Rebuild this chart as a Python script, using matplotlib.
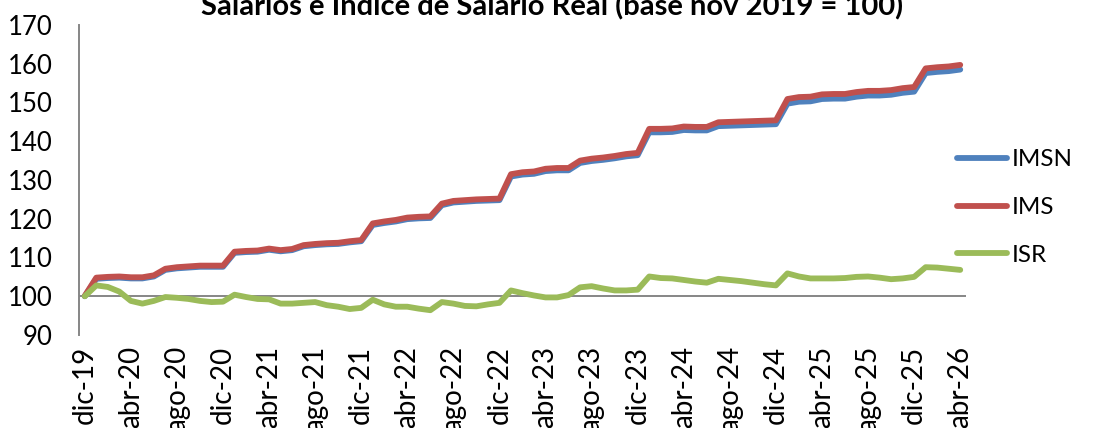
import numpy as np
import matplotlib
matplotlib.use('Agg')
import matplotlib.pyplot as plt

plt.rcParams['font.family'] = ['Lato', 'DejaVu Sans']

# indices mensuales dic-19 ... abr-26 (base nov 2019 = 100)
imsn = [100.0,
        104.5, 104.7, 104.8, 104.6, 104.6, 105.1, 106.8, 107.2, 107.4, 107.6, 107.6, 107.6,
        111.2, 111.4, 111.5, 112.0, 111.6, 111.9, 112.9, 113.2, 113.4, 113.5, 113.9, 114.2,
        118.4, 118.9, 119.3, 119.9, 120.1, 120.2, 123.5, 124.2, 124.4, 124.6, 124.7, 124.8,
        130.9, 131.4, 131.6, 132.3, 132.5, 132.5, 134.4, 134.9, 135.2, 135.6, 136.1, 136.4,
        142.3, 142.3, 142.4, 142.9, 142.8, 142.8, 143.9, 144.0, 144.1, 144.2, 144.3, 144.4,
        149.7, 150.2, 150.3, 150.9, 151.0, 151.0, 151.5, 151.8, 151.8, 152.0, 152.5, 152.8,
        157.6, 157.9, 158.1, 158.5]
ims = [100.1,
       104.8, 105.0, 105.1, 104.9, 104.9, 105.4, 107.1, 107.5, 107.7, 107.9, 107.9, 107.9,
       111.5, 111.7, 111.8, 112.3, 111.9, 112.2, 113.2, 113.5, 113.7, 113.8, 114.2, 114.5,
       118.8, 119.3, 119.7, 120.3, 120.5, 120.6, 123.9, 124.6, 124.8, 125.0, 125.1, 125.2,
       131.5, 132.0, 132.2, 132.9, 133.1, 133.1, 135.0, 135.5, 135.8, 136.2, 136.7, 137.0,
       143.2, 143.2, 143.3, 143.8, 143.7, 143.7, 144.9, 145.0, 145.1, 145.2, 145.3, 145.4,
       150.9, 151.4, 151.5, 152.1, 152.2, 152.2, 152.7, 153.0, 153.0, 153.2, 153.7, 154.0,
       158.8, 159.1, 159.3, 159.7]
isr = [100.0,
       102.8, 102.4, 101.2, 98.8, 98.1, 98.8, 99.8, 99.6, 99.3, 98.8, 98.5, 98.6,
       100.4, 99.8, 99.3, 99.2, 98.1, 98.1, 98.3, 98.5, 97.7, 97.3, 96.7, 97.0,
       99.1, 97.9, 97.3, 97.3, 96.8, 96.4, 98.5, 98.1, 97.5, 97.4, 97.9, 98.3,
       101.5, 100.8, 100.2, 99.7, 99.7, 100.3, 102.3, 102.6, 102.0, 101.5, 101.5, 101.7,
       105.1, 104.7, 104.6, 104.2, 103.8, 103.5, 104.5, 104.2, 103.9, 103.5, 103.1, 102.8,
       105.9, 105.1, 104.6, 104.6, 104.6, 104.7, 105.0, 105.1, 104.8, 104.4, 104.6, 105.0,
       107.5, 107.4, 107.1, 106.8]

tick_labels = ['dic-19', 'abr-20', 'ago-20', 'dic-20', 'abr-21', 'ago-21', 'dic-21',
               'abr-22', 'ago-22', 'dic-22', 'abr-23', 'ago-23', 'dic-23', 'abr-24',
               'ago-24', 'dic-24', 'abr-25', 'ago-25', 'dic-25', 'abr-26']

x = np.arange(len(ims))

fig = plt.figure(figsize=(11.05, 4.28), dpi=100)
ax = fig.add_axes([0.0715, 0.2173, 0.8027, 0.7243])

ax.axhline(100, color='#868686', lw=1.4, zorder=1)
ax.plot(x, imsn, color='#4F81BD', lw=4.2, label='IMSN', solid_capstyle='round', zorder=2)
ax.plot(x, ims, color='#C0504D', lw=4.2, label='IMS', solid_capstyle='round', zorder=3)
ax.plot(x, isr, color='#9BBB59', lw=4.2, label='ISR', solid_capstyle='round', zorder=4)

ax.set_xlim(-0.5, len(ims) - 0.5)
ax.set_ylim(90, 170)
ax.set_yticks(range(90, 171, 10))
ax.set_xticks(x[::4])
ax.set_xticklabels(tick_labels, rotation=90, va='top', ha='center')

for s in ['top', 'right', 'bottom']:
    ax.spines[s].set_visible(False)
ax.spines['left'].set_color('#868686')
ax.spines['left'].set_linewidth(1.4)
ax.tick_params(axis='y', length=0, pad=19, labelsize=18.5)
ax.tick_params(axis='x', length=0, pad=8, labelsize=20)

leg = fig.legend(loc='center left', bbox_to_anchor=(0.846, 0.515), frameon=False,
                 fontsize=17.5, handlelength=2.05, handletextpad=0.22, labelspacing=1.1)

fig.text(0.5, 1 - 14 / 428, 'Salarios e Índice de Salario Real (base nov 2019 = 100)',
         ha='center', va='baseline', fontsize=21, fontweight='bold')

fig.savefig('out.png', dpi=100)
